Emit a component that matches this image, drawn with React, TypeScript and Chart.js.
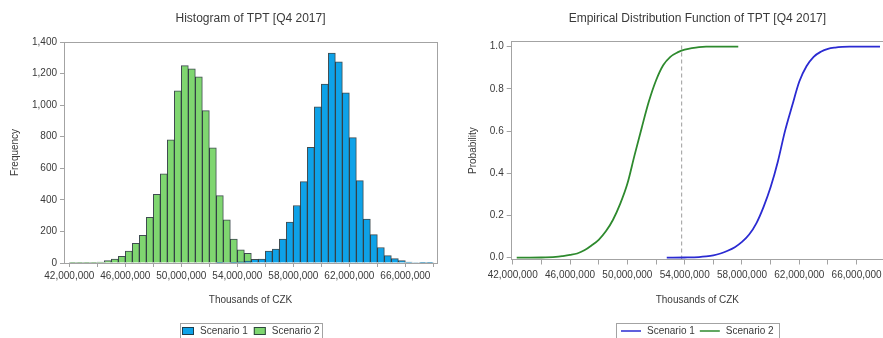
import React, { useEffect, useRef } from "react";
import { Chart, registerables } from "chart.js";

Chart.register(...registerables);

// ---------- data ----------
const SERIES_NAMES = ["Scenario 1", "Scenario 2"];
const HIST_TITLE = "Histogram of TPT [Q4 2017]";
const CDF_TITLE = "Empirical Distribution Function of TPT [Q4 2017]";
const X_TITLE = "Thousands of CZK";
const HIST_Y_TITLE = "Frequency";
const CDF_Y_TITLE = "Probability";

// histogram bin starts (millions), each bin is 0.5M wide
const BIN_STARTS_M = [
  42.0, 42.5, 43.0, 43.5, 44.0, 44.5, 45.0, 45.5, 46.0, 46.5,
  47.0, 47.5, 48.0, 48.5, 49.0, 49.5, 50.0, 50.5, 51.0, 51.5,
  52.0, 52.5, 53.0, 53.5, 54.0, 54.5, 55.0, 55.5, 56.0, 56.5,
  57.0, 57.5, 58.0, 58.5, 59.0, 59.5, 60.0, 60.5, 61.0, 61.5,
  62.0, 62.5, 63.0, 63.5, 64.0, 64.5, 65.0, 65.5, 66.0, 66.5,
  67.0, 67.5,
];
const SCENARIO1_COUNTS = [
  null, null, null, null, null, null, null, null, null, null,
  null, null, null, null, null, null, null, null, null, null,
  null, 2, 3, 5, 8, 12, 23, 25, 75, 88,
  152, 259, 364, 516, 733, 990, 1133, 1330, 1274, 1078,
  794, 522, 278, 180, 98, 47, 28, 15, 6, 3,
  2, 4,
];
const SCENARIO2_COUNTS = [
  1, 1, 2, 4, 6, 15, 25, 42, 75, 125,
  175, 290, 435, 565, 780, 1090, 1250, 1230, 1180, 965,
  730, 427, 274, 152, 84, 62, null, null, null, null,
  null, null, null, null, null, null, null, null, null, null,
  null, null, null, null, null, null, null, null, null, null,
  null, null,
];

const X_LABELLED_TICKS_M = [42, 46, 50, 54, 58, 62, 66];
const X_TICK_STEP_M = 2;
const HIST_Y_TICKS = [0, 200, 400, 600, 800, 1000, 1200, 1400];
const CDF_Y_TICKS = [0, 0.2, 0.4, 0.6, 0.8, 1.0];

// empirical distribution functions (x in millions, probability)
const CDF1_X_M = [52.75, 54.0, 55.0, 55.5, 56.0, 56.5, 57.0, 57.5, 58.0, 58.5, 59.0, 59.5, 60.0, 60.5, 61.0, 61.5, 62.0, 62.5, 63.0, 63.5, 64.0, 64.5, 65.0, 65.5, 67.63];
const CDF1_P = [0, 0.001, 0.003, 0.006, 0.011, 0.02, 0.033, 0.05, 0.075, 0.11, 0.163, 0.24, 0.335, 0.455, 0.6, 0.72, 0.835, 0.907, 0.952, 0.976, 0.99, 0.996, 0.999, 1.0, 1.0];
const CDF2_X_M = [42.28, 44.0, 45.0, 45.5, 46.0, 46.5, 47.0, 47.5, 48.0, 48.5, 49.0, 49.5, 50.0, 50.5, 51.0, 51.5, 52.0, 52.5, 53.0, 53.5, 54.0, 54.5, 55.0, 55.5, 57.74];
const CDF2_P = [0, 0.001, 0.004, 0.008, 0.013, 0.02, 0.035, 0.058, 0.085, 0.125, 0.18, 0.255, 0.35, 0.485, 0.615, 0.74, 0.84, 0.912, 0.952, 0.973, 0.986, 0.993, 0.998, 1.0, 1.0];
const THRESHOLD_M = 53.79;

// ---------- styles ----------
const FONT = '"Liberation Sans", Arial, Helvetica, sans-serif';
const TEXT = "#3a3a3a";
const FRAME = "#a3a3a3";
const BLUE_FILL = "#0ea2e8";
const GREEN_FILL = "#7fd670";
const BAR_EDGE = "rgba(30,45,50,0.85)";
const BLUE_LINE = "#2b2bd2";
const GREEN_LINE = "#2e8a2e";
const DASH = "#9c9c9c";

const MILLION = 1e6;
const fmt = (v: number) => Math.round(v).toLocaleString("en-US");

function alignPx(v: number) {
  return Math.round(v - 0.5) + 0.5;
}

function makeFramePlugin(right: boolean) {
  return {
    id: "frame",
    beforeDatasetsDraw(chart: any) {
      const { ctx, chartArea } = chart;
      ctx.save();
      ctx.strokeStyle = FRAME;
      ctx.lineWidth = 1;
      ctx.beginPath();
      const t = alignPx(chartArea.top);
      ctx.moveTo(chartArea.left, t);
      ctx.lineTo(chartArea.right, t);
      if (right) {
        const r = alignPx(chartArea.right);
        ctx.moveTo(r, chartArea.top);
        ctx.lineTo(r, chartArea.bottom);
      }
      ctx.stroke();
      ctx.restore();
    },
  };
}

function makeLegendPlugin(kind: "box" | "line") {
  return {
    id: "boxedLegend",
    afterDraw(chart: any) {
      const { ctx, chartArea } = chart;
      const items = chart.data.datasets.filter((d: any) => d.label);
      ctx.save();
      ctx.font = `10px ${FONT}`;
      const sw = kind === "box" ? 12 : 20;
      const gap = 6;
      const between = kind === "box" ? 6 : 5;
      const padL = kind === "box" ? 2 : 5;
      const padR = kind === "box" ? 2 : 5;
      const widths = items.map((d: any) => sw + gap + ctx.measureText(d.label).width);
      const total = padL + padR + widths.reduce((a: number, b: number) => a + b, 0) + between * (items.length - 1);
      const cx = (chartArea.left + chartArea.right) / 2;
      let x = Math.round(cx - total / 2);
      const top = 323.5;
      const cy = 331;
      ctx.strokeStyle = FRAME;
      ctx.lineWidth = 1;
      ctx.strokeRect(x + 0.5, top, Math.round(total), 24);
      x += padL;
      items.forEach((d: any, i: number) => {
        if (kind === "box") {
          ctx.fillStyle = d.backgroundColor;
          ctx.fillRect(x, cy - 4, sw, 8);
          ctx.strokeStyle = d.borderColor;
          ctx.lineWidth = 1;
          ctx.strokeRect(x + 0.5, cy - 3.5, sw - 1, 7);
        } else {
          ctx.strokeStyle = d.borderColor;
          ctx.lineWidth = 1.5;
          ctx.beginPath();
          ctx.moveTo(x, cy);
          ctx.lineTo(x + sw, cy);
          ctx.stroke();
        }
        ctx.fillStyle = TEXT;
        ctx.textBaseline = "middle";
        ctx.textAlign = "left";
        ctx.fillText(d.label, x + sw + gap, cy);
        x += widths[i] + between;
      });
      ctx.restore();
    },
  };
}

// x values are in millions; labels shown in full units
const xTickLabel = (v: any) => {
  const m = Number(v);
  const r = Math.round(m);
  return Math.abs(m - r) < 1e-6 && X_LABELLED_TICKS_M.includes(r) ? fmt(r * MILLION) : "";
};

function axisCommon(tickLength: number) {
  return {
    grid: { drawOnChartArea: false, drawTicks: true, tickLength, color: FRAME, lineWidth: 1, offset: false },
    border: { display: true, color: FRAME, width: 1 },
  };
}

function histConfig(): any {
  const binWidth = BIN_STARTS_M[1] - BIN_STARTS_M[0];
  const toData = (counts: (number | null)[]) =>
    BIN_STARTS_M.map((b, i) => ({ x: b + binWidth / 2, y: counts[i] }));
  return {
    type: "bar",
    data: {
      datasets: [
        {
          label: SERIES_NAMES[0],
          data: toData(SCENARIO1_COUNTS),
          backgroundColor: BLUE_FILL,
          borderColor: BAR_EDGE,
          borderWidth: 1,
          grouped: false,
          barPercentage: 1,
          categoryPercentage: 1,
        },
        {
          label: SERIES_NAMES[1],
          data: toData(SCENARIO2_COUNTS),
          backgroundColor: GREEN_FILL,
          borderColor: BAR_EDGE,
          borderWidth: 1,
          grouped: false,
          barPercentage: 1,
          categoryPercentage: 1,
        },
      ],
    },
    options: {
      animation: false,
      responsive: false,
      devicePixelRatio: 1,
      events: [],
      layout: { padding: { left: 0, right: 4, top: 0, bottom: 30 } },
      plugins: {
        legend: { display: false },
        tooltip: { enabled: false },
        title: {
          display: true,
          text: HIST_TITLE,
          fullSize: false,
          color: TEXT,
          font: { family: FONT, size: 12, weight: "normal" },
          padding: { top: 11, bottom: 16.6 },
        },
      },
      scales: {
        x: {
          type: "linear",
          offset: false,
          min: 41.62,
          max: 68.26,
          ...axisCommon(4),
          ticks: {
            stepSize: X_TICK_STEP_M,
            includeBounds: false,
            autoSkip: false,
            maxRotation: 0,
            minRotation: 0,
            padding: 3,
            color: TEXT,
            font: { family: FONT, size: 10 },
            callback: xTickLabel,
          },
          title: {
            display: true,
            text: X_TITLE,
            color: TEXT,
            font: { family: FONT, size: 10 },
            padding: { top: 0, bottom: 1.3 },
          },
          afterFit: (s: any) => {
            s.height = 45;
            s.paddingLeft = 0;
            s.paddingRight = 0;
          },
        },
        y: {
          type: "linear",
          min: HIST_Y_TICKS[0],
          max: HIST_Y_TICKS[HIST_Y_TICKS.length - 1],
          ...axisCommon(4),
          ticks: {
            stepSize: HIST_Y_TICKS[1] - HIST_Y_TICKS[0],
            autoSkip: false,
            padding: 3,
            color: TEXT,
            font: { family: FONT, size: 10 },
            callback: (v: any) => fmt(Number(v)),
          },
          title: {
            display: true,
            text: HIST_Y_TITLE,
            color: TEXT,
            font: { family: FONT, size: 10 },
            padding: { top: 9, bottom: 0 },
          },
          afterFit: (s: any) => {
            s.width = 64;
            s.paddingTop = 0;
            s.paddingBottom = 0;
          },
        },
      },
    },
    plugins: [makeFramePlugin(true), makeLegendPlugin("box")],
  };
}

function cdfConfig(): any {
  const yMin = -0.0085;
  const yMax = 1.0237;
  return {
    type: "line",
    data: {
      datasets: [
        {
          label: SERIES_NAMES[0],
          data: CDF1_X_M.map((x, i) => ({ x, y: CDF1_P[i] })),
          borderColor: BLUE_LINE,
          borderWidth: 1.8,
          pointRadius: 0,
          cubicInterpolationMode: "monotone",
          fill: false,
        },
        {
          label: SERIES_NAMES[1],
          data: CDF2_X_M.map((x, i) => ({ x, y: CDF2_P[i] })),
          borderColor: GREEN_LINE,
          borderWidth: 1.8,
          pointRadius: 0,
          cubicInterpolationMode: "monotone",
          fill: false,
        },
        {
          label: "",
          data: [
            { x: THRESHOLD_M, y: yMin },
            { x: THRESHOLD_M, y: yMax },
          ],
          borderColor: DASH,
          borderWidth: 1,
          borderDash: [4, 3],
          pointRadius: 0,
          fill: false,
        },
      ],
    },
    options: {
      animation: false,
      responsive: false,
      devicePixelRatio: 1,
      events: [],
      layout: { padding: { left: 0, right: 0, top: 0, bottom: 30 } },
      plugins: {
        legend: { display: false },
        tooltip: { enabled: false },
        title: {
          display: true,
          text: CDF_TITLE,
          fullSize: false,
          color: TEXT,
          font: { family: FONT, size: 12, weight: "normal" },
          padding: { top: 11, bottom: 16.3 },
        },
      },
      scales: {
        x: {
          type: "linear",
          offset: false,
          min: 41.93,
          max: 67.84,
          ...axisCommon(5),
          ticks: {
            stepSize: X_TICK_STEP_M,
            includeBounds: false,
            autoSkip: false,
            maxRotation: 0,
            minRotation: 0,
            padding: 5,
            color: TEXT,
            font: { family: FONT, size: 10 },
            callback: xTickLabel,
          },
          title: {
            display: true,
            text: X_TITLE,
            color: TEXT,
            font: { family: FONT, size: 10 },
            padding: { top: 0, bottom: 1.3 },
          },
          afterFit: (s: any) => {
            s.height = 48.5;
            s.paddingLeft = 0;
            s.paddingRight = 0;
          },
        },
        y: {
          type: "linear",
          min: yMin,
          max: yMax,
          ...axisCommon(5),
          ticks: {
            stepSize: CDF_Y_TICKS[1] - CDF_Y_TICKS[0],
            includeBounds: false,
            autoSkip: false,
            padding: 3,
            color: TEXT,
            font: { family: FONT, size: 10 },
            callback: (v: any) => Number(v).toFixed(1),
          },
          title: {
            display: true,
            text: CDF_Y_TITLE,
            color: TEXT,
            font: { family: FONT, size: 10 },
            padding: { top: 26.3, bottom: 0 },
          },
          afterFit: (s: any) => {
            s.width = 70.7;
            s.paddingTop = 0;
            s.paddingBottom = 0;
          },
        },
      },
    },
    plugins: [makeFramePlugin(false), makeLegendPlugin("line")],
  };
}

export default function App() {
  const histRef = useRef<HTMLCanvasElement>(null);
  const cdfRef = useRef<HTMLCanvasElement>(null);

  useEffect(() => {
    const h = new Chart(histRef.current as HTMLCanvasElement, histConfig());
    const c = new Chart(cdfRef.current as HTMLCanvasElement, cdfConfig());
    return () => {
      h.destroy();
      c.destroy();
    };
  }, []);

  return (
    <div
      style={{
        position: "fixed",
        left: 0,
        top: 0,
        width: 883,
        height: 338,
        background: "#ffffff",
        overflow: "hidden",
      }}
    >
      <canvas
        ref={histRef}
        width={441}
        height={338}
        style={{ position: "absolute", left: 0, top: 0, width: 441, height: 338 }}
      />
      <canvas
        ref={cdfRef}
        width={442}
        height={338}
        style={{ position: "absolute", left: 441, top: 0, width: 442, height: 338 }}
      />
    </div>
  );
}
